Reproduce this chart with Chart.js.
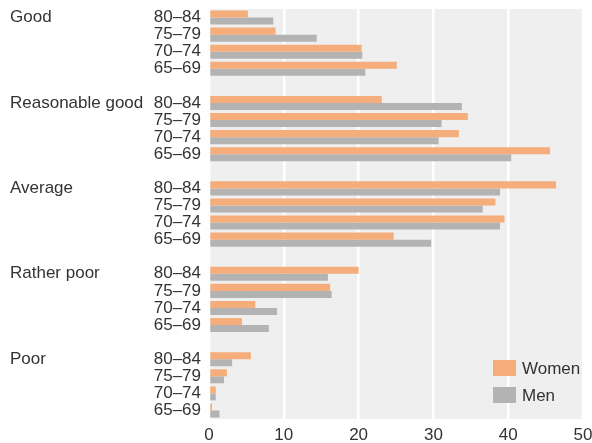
<!DOCTYPE html>
<html>
<head>
<meta charset="utf-8">
<script src="https://cdn.jsdelivr.net/npm/chart.js@4"></script>
<style>
  html, body { margin: 0; padding: 0; background: #fff; }
  #wrap { width: 592px; height: 443px; }
</style>
</head>
<body>
<div id="wrap"><canvas id="canvas"></canvas></div>
<script>
// groups, from top to bottom
const groups = ["Good", "Reasonable good", "Average", "Rather poor", "Poor"];
const ages = ["80–84", "75–79", "70–74", "65–69"];
const xTicks = [0, 10, 20, 30, 40, 50];

// values per group, in the order of ages
const women = [
  [5.2, 8.9, 20.4, 25.1],
  [23.1, 34.6, 33.4, 45.6],
  [46.4, 38.3, 39.5, 24.7],
  [20.0, 16.2, 6.2, 4.4],
  [5.6, 2.4, 0.9, 0.4]
];
const men = [
  [8.6, 14.4, 20.5, 20.9],
  [33.8, 31.1, 30.7, 40.4],
  [38.9, 36.6, 38.9, 29.7],
  [15.9, 16.4, 9.1, 8.0],
  [3.1, 2.0, 0.9, 1.4]
];

const textColor = '#333333';
const fontFamily = '"Liberation Sans", Arial, sans-serif';

// one row per age, with an empty row between groups
let labels = [];
let womenData = [];
let menData = [];
let groupRows = [];
for (let g = 0; g < groups.length; g++) {
  groupRows.push(labels.length);
  for (let a = 0; a < ages.length; a++) {
    labels.push(ages[a]);
    womenData.push(women[g][a]);
    menData.push(men[g][a]);
  }
  if (g < groups.length - 1) {
    labels.push('');
    womenData.push(null);
    menData.push(null);
  }
}

// grey plot background
const plotBackground = {
  id: 'plotBackground',
  beforeDraw(chart) {
    const a = chart.chartArea;
    const ctx = chart.ctx;
    ctx.save();
    ctx.fillStyle = '#efefef';
    ctx.fillRect(a.left, a.top, a.right - a.left, a.bottom - a.top);
    ctx.restore();
  }
};

// group names on the left, and the legend inside the plot
const extras = {
  id: 'extras',
  afterDraw(chart) {
    const ctx = chart.ctx;
    const y = chart.scales.y;
    const a = chart.chartArea;
    ctx.save();
    ctx.font = '17px ' + fontFamily;
    ctx.fillStyle = textColor;
    ctx.textBaseline = 'middle';
    ctx.textAlign = 'left';
    for (let g = 0; g < groups.length; g++) {
      ctx.fillText(groups[g], 10, y.getPixelForValue(groupRows[g]));
    }
    chart.data.datasets.forEach((ds, i) => {
      const top = a.bottom - 59 + i * 27;
      ctx.fillStyle = ds.backgroundColor;
      ctx.fillRect(a.right - 90, top, 23, 16);
      ctx.fillStyle = textColor;
      ctx.fillText(ds.label, a.right - 61, top + 9);
    });
    ctx.restore();
  }
};

let ctx = document.getElementById('canvas').getContext('2d');

let chart = new Chart(ctx, {
  type: 'bar',
  data: {
    labels: labels,
    datasets: [{
      label: 'Women',
      backgroundColor: '#f5ad7b',
      data: womenData
    }, {
      label: 'Men',
      backgroundColor: '#b3b3b3',
      data: menData
    }]
  },
  options: {
    indexAxis: 'y',
    responsive: true,
    maintainAspectRatio: false,
    animation: false,
    layout: { padding: { top: 9, right: 9, left: 0, bottom: 0 } },
    datasets: {
      bar: { categoryPercentage: 0.82, barPercentage: 1.0 }
    },
    plugins: {
      legend: { display: false },
      tooltip: { enabled: false }
    },
    scales: {
      x: {
        min: 0,
        max: 50,
        afterBuildTicks(scale) {
          scale.ticks = xTicks.map(v => ({ value: v }));
        },
        afterFit(scale) {
          scale.height = 24;
          scale.paddingLeft = 0;
          scale.paddingRight = 0;
        },
        border: { display: false },
        grid: { color: '#ffffff', lineWidth: 2.5, drawTicks: false },
        ticks: {
          color: textColor,
          padding: 6,
          font: { family: fontFamily, size: 17 }
        }
      },
      y: {
        afterFit(scale) {
          scale.width = 209;
          scale.paddingTop = 0;
          scale.paddingBottom = 0;
        },
        border: { display: false },
        grid: { display: false, drawTicks: false },
        ticks: {
          color: textColor,
          padding: 8,
          autoSkip: false,
          font: { family: fontFamily, size: 17 }
        }
      }
    }
  },
  plugins: [plotBackground, extras]
});
</script>
</body>
</html>
